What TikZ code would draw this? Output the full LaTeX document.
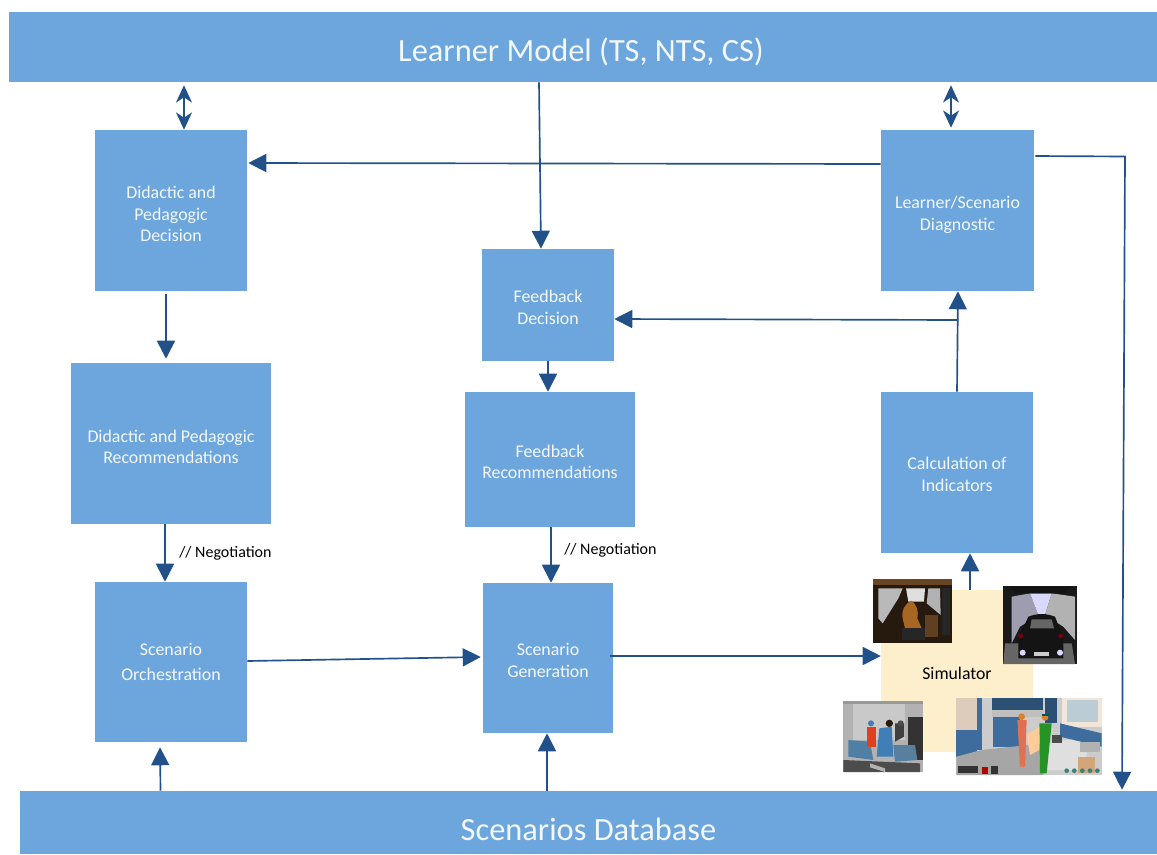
\documentclass[tikz,border=0pt]{standalone}
\usepackage{fontspec}
\setmainfont{Carlito}
\usetikzlibrary{arrows.meta}
\definecolor{boxblue}{HTML}{6DA6DC}
\definecolor{arrowblue}{HTML}{22518A}
\definecolor{simbg}{HTML}{FDEFCB}
\definecolor{orblue}{HTML}{3E6C9C}
\definecolor{ornavy}{HTML}{2C4F74}
\definecolor{wardblue}{HTML}{3F7FB5}
\definecolor{wardbed}{HTML}{4F7FA5}
\newcommand{\shifted}[2]{\raisebox{#1}[0pt][0pt]{\begin{tabular}{@{}c@{}}#2\end{tabular}}}
\tikzset{
  blk/.style={fill=boxblue,draw=none,text=white!92!boxblue,align=center,inner sep=0pt,font=\fontsize{13.4pt}{16.2pt}\selectfont},
  banner/.style={blk,font=\fontsize{24.3pt}{28pt}\selectfont},
  conn/.style={draw=arrowblue,line width=1.25pt,-{Triangle[width=13.5pt,length=13.5pt]}},
  twoway/.style={draw=arrowblue,line width=1.1pt,{Stealth[width=12pt,length=13pt,inset=4pt]}-{Stealth[width=12pt,length=13pt,inset=4pt]}},
  plainlbl/.style={font=\fontsize{12pt}{14pt}\selectfont,text=black,inner sep=0pt}
}
\begin{document}
\begin{tikzpicture}[x=0.75pt,y=-0.75pt]
\useasboundingbox (0,0) rectangle (1157,854);
% blocks
\node[banner,minimum width=1148*0.75pt,minimum height=70*0.75pt] (learner) at (583,47) {\hspace{-3pt}\shifted{-11.2pt}{Learner Model (TS, NTS, CS)}};
\node[banner,minimum width=1137*0.75pt,minimum height=63*0.75pt] (db) at (588.5,822.5) {\shifted{-14pt}{Scenarios Database}};
\node[blk,minimum width=152*0.75pt,minimum height=161*0.75pt] (did) at (171,210.5) {\shifted{-7.7pt}{Didactic and\\Pedagogic\\Decision}};
\node[blk,minimum width=200*0.75pt,minimum height=161*0.75pt] (rec) at (171,443.5) {\shifted{-7.4pt}{Didactic and Pedagogic\\Recommendations}};
\node[blk,minimum width=152*0.75pt,minimum height=160*0.75pt] (orch) at (171,662) {\shifted{-5.2pt}{Scenario\\[2.6pt]Orchestration}};
\node[blk,minimum width=132*0.75pt,minimum height=112*0.75pt] (fd) at (548,305) {\shifted{-6.6pt}{Feedback\\Decision}};
\node[blk,minimum width=170*0.75pt,minimum height=135*0.75pt] (fr) at (550,459.5) {\shifted{-6.6pt}{Feedback\\Recommendations}};
\node[blk,minimum width=130*0.75pt,minimum height=150*0.75pt] (gen) at (548,658) {\shifted{-6.6pt}{Scenario\\Generation}};
\node[blk,minimum width=153*0.75pt,minimum height=161*0.75pt] (diag) at (957.5,210.5) {\shifted{-7pt}{Learner/Scenario\\Diagnostic}};
\node[blk,minimum width=152*0.75pt,minimum height=161*0.75pt] (calc) at (957,472.5) {\shifted{-6.2pt}{Calculation of\\Indicators}};
\node[fill=simbg,inner sep=0pt,minimum width=152*0.75pt,minimum height=162*0.75pt] (sim) at (957,671) {};
\node[plainlbl,font=\fontsize{13.3pt}{15pt}\selectfont] (simlbl) at (957,673.5) {Simulator};
% labels
\node[plainlbl,anchor=west] (neg1) at (179,553) {// Negotiation};
\node[plainlbl,anchor=west] (neg2) at (564,550.5) {// Negotiation};
% photos (drawn in zoomed coordinates: 3 units = 1 px)
\begin{scope}[shift={(830,560)},x=0.25pt,y=-0.25pt]
  % cabin
  \fill[black!80!brown] (130,58) rectangle (367,248);
  \fill[brown!55!black] (130,58) rectangle (367,76);
  \fill[gray!55!white] (145,85) -- (218,85) -- (205,115) -- (158,190) -- (145,175) -- cycle;
  \fill[gray!25!white] (228,85) -- (285,85) -- (282,125) -- (235,125) -- cycle;
  \fill[gray!60!white] (295,85) -- (330,85) -- (332,165) -- (290,130) -- cycle;
  \fill[black!70!gray] (335,85) rectangle (360,225);
  \fill[brown!70!orange!80!black] (218,175) to[bend left=40] (245,122) to[bend left=30] (262,175) -- (275,205) -- (225,205) -- cycle;
  \fill[black!85] (215,205) rectangle (285,240);
  \fill[brown!50!black] (285,165) rectangle (325,230);
  % car
  \fill[black!90] (520,78) rectangle (740,312);
  \fill[blue!10!gray!70!white] (545,110) -- (600,100) -- (625,165) -- (570,200) -- (545,250) -- cycle;
  \fill[blue!15!white] (600,100) -- (665,100) -- (645,165) -- (625,165) -- cycle;
  \fill[gray!60!white] (665,100) -- (735,110) -- (735,240) -- (700,200) -- (645,165) -- cycle;
  \fill[black!85!gray] (540,80) -- (725,80) -- (700,100) -- (555,100) -- cycle;
  \fill[black!60] (525,250) -- (725,250) -- (735,312) -- (520,312) -- cycle;
  \fill[black!92] (595,170) to[out=20,in=160] (675,170) -- (700,235) -- (700,295) -- (565,295) -- (565,235) -- cycle;
  \fill[black!60] (605,178) -- (665,178) -- (672,205) -- (600,205) -- cycle;
  \fill[white!85!blue] (578,278) circle (9);
  \fill[white!85!blue] (690,278) circle (9);
  \fill[white!80!black] (612,276) rectangle (656,288);
  \fill[red!50!black] (572,228) circle (7);
  \fill[red!50!black] (692,228) circle (7);
  % ward
  \fill[gray!60!white] (40,424) rectangle (280,636);
  \fill[gray!80!white] (40,424) rectangle (280,432);
  \fill[gray!42!white] (70,432) rectangle (225,540);
  \fill[black!60!gray] (235,470) rectangle (278,600);
  \fill[wardbed] (55,540) -- (120,545) -- (130,600) -- (55,590) -- cycle;
  \fill[red!50!brown] (112,500) rectangle (138,560);
  \fill[wardblue] (123,490) circle (9);
  \fill[wardblue] (148,505) -- (185,500) -- (190,590) -- (140,590) -- cycle;
  \fill[black!80!brown] (178,490) circle (11);
  \fill[black!75] (195,490) -- (222,490) -- (222,530) -- (195,545) -- cycle;
  \fill[black!70] (212,490) circle (9);
  \fill[wardbed!80!gray] (190,555) -- (255,555) -- (262,600) -- (195,605) -- cycle;
  \fill[black!70] (40,600) -- (270,610) -- (270,636) -- (40,636) -- cycle;
  \fill[gray!60!white] (120,610) -- (165,625) -- (165,636) -- (120,622) -- cycle;
  % OR
  \fill[gray!40!white] (379,415) rectangle (815,645);
  \fill[orblue] (379,510) rectangle (440,590);
  \fill[gray!35!brown!40!white] (379,415) rectangle (440,510);
  \fill[orblue] (440,415) rectangle (455,570);
  \fill[ornavy] (486,415) rectangle (640,450);
  \fill[gray!50!white] (486,450) rectangle (640,470);
  \fill[orblue] (490,470) rectangle (570,560);
  \fill[gray!70!white] (455,570) -- (640,550) -- (640,645) -- (379,645) -- (379,590) -- cycle;
  \fill[ornavy] (645,415) rectangle (680,490);
  \fill[brown!20!white] (695,415) rectangle (815,500);
  \fill[cyan!25!gray!50!white] (710,420) rectangle (805,485);
  \fill[gray!25!white] (650,550) -- (770,530) -- (770,630) -- (650,630) -- cycle;
  \fill[orblue] (690,490) -- (815,520) -- (815,560) -- (690,530) -- cycle;
  \fill[gray!60!white] (750,545) rectangle (810,575);
  \fill[black!70] (665,525) rectangle (695,550);
  \fill[brown!70!white] (745,590) rectangle (795,640);
  \fill[red!40!brown!80!white] (562,480) -- (590,480) -- (585,620) -- (570,620) -- cycle;
  \fill[orange!50!brown] (575,470) circle (10);
  \fill[green!50!black!85!white] (628,490) -- (665,490) -- (650,640) -- (630,640) -- cycle;
  \fill[orange!55!brown] (645,472) circle (10);
  \fill[teal!70!black] (635,462) rectangle (657,468);
  \fill[orange!40!white] (590,525) -- (628,500) -- (628,570) -- (600,585) -- cycle;
  \fill[black!80] (385,618) rectangle (445,640);
  \fill[red!70!black] (455,620) rectangle (475,642);
  \fill[black!80] (482,618) rectangle (505,642);
  \foreach \cx in {710,733,757,780,802} \fill[teal!55!gray] (\cx,632) circle (7);
\end{scope}
% connectors
\draw[twoway] ([xshift=-399pt*0.75]learner.south) ++(0,3) -- ([xshift=13pt*0.75]did.north);
\draw[twoway] ([xshift=368pt*0.75]learner.south) ++(0,3) -- ([xshift=-6.5pt*0.75,yshift=2pt*0.75]diag.north);
\draw[conn] ([xshift=-44pt*0.75]learner.south) -- ([xshift=-7pt*0.75]fd.north);
\draw[conn] ([yshift=46.5pt*0.75]diag.west) -- ([yshift=47.5pt*0.75,xshift=1pt*0.75]did.east);
\draw[conn] ([xshift=1pt*0.75,yshift=54.5pt*0.75]diag.east) -- (1125,156.5) -- ([xshift=533.5pt*0.75,yshift=1pt*0.75]db.north);
\draw[conn] ([xshift=-5pt*0.75,yshift=-3pt*0.75]did.south) -- ([xshift=-5pt*0.75,yshift=4pt*0.75]rec.north);
\draw[conn] ([xshift=-6pt*0.75]rec.south) -- ([xshift=-6pt*0.75]orch.north);
\draw[conn] (fd.south) -- ([xshift=-2pt*0.75]fr.north);
\draw[conn] ([xshift=1pt*0.75]fr.south) -- ([xshift=3pt*0.75]gen.north);
\draw[conn] ([yshift=1pt*0.75]orch.east) -- ([yshift=1pt*0.75,xshift=-2pt*0.75]gen.west);
\draw[conn] ([xshift=-3pt*0.75,yshift=2pt*0.75]gen.east) -- ([yshift=15pt*0.75]sim.west);
\draw[conn] ([xshift=13pt*0.75]sim.north) -- ([xshift=13pt*0.75]calc.south);
\draw[conn] (calc.north) -- ([xshift=.5pt*0.75]diag.south);
\coordinate (branch) at (958,320);
\draw[conn] (branch) -- ([yshift=-14pt*0.75]fd.east);
\draw[conn] ([xshift=-11pt*0.75]db.north) ++(-417,0) -- ([yshift=-5pt*0.75,xshift=-11pt*0.75]orch.south);
\draw[conn] ([xshift=-41.5pt*0.75]db.north) -- ([xshift=-1pt*0.75]gen.south);
\end{tikzpicture}
\end{document}
